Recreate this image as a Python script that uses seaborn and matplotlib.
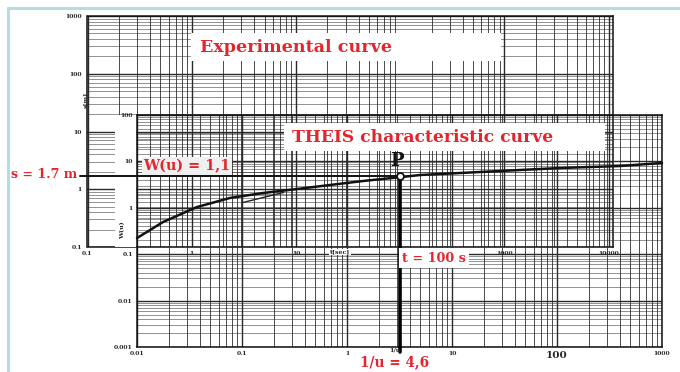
import numpy as np
import pandas as pd
import matplotlib
matplotlib.use("Agg")
import matplotlib.pyplot as plt
from matplotlib.ticker import LogLocator, NullFormatter, FixedLocator, FixedFormatter
from matplotlib.patches import Rectangle
from matplotlib.lines import Line2D
import seaborn as sns

# ---------------- data ----------------
# Theis characteristic curve  W(u) vs 1/u
theis_inv_u = [0.01, 0.0177, 0.0373, 0.0769, 0.158, 0.334, 0.689, 1.42, 3.0, 4.96, 11.9, 28.6, 107, 398, 1000]
theis_w = [0.223, 0.494, 1.04, 1.63, 2.08, 2.54, 3.10, 3.78, 4.5, 5.09, 5.62, 6.21, 7.2, 7.95, 9.25]
# short experimental stroke under the curve
stroke_inv_u = [0.102, 0.25]
stroke_w = [1.3, 2.15]
# match point P (experimental sheet coordinates)
match_t = 100.0      # s
match_s = 1.7        # m
h_line_t = [0.085, 100.0]
v_line_s = [1.7, 0.0015]

exp_xticks = [0.1, 1, 10, 1000, 10000]
exp_xlabels = ["0.1", "1", "10", "1000", "10000"]
exp_yticks = [0.1, 1, 10, 100, 1000]
exp_ylabels = ["0.1", "1", "10", "100", "1000"]
theis_xticks = [0.01, 0.1, 1, 10, 100, 1000]
theis_xlabels = ["0.01", "0.1", "1", "10", "100", "1000"]
theis_yticks = [0.001, 0.01, 0.1, 1, 10, 100]
theis_ylabels = ["0.001", "0.01", "0.1", "1", "10", "100"]

# ---------------- style ----------------
sns.set_style("white")
plt.rcParams["font.family"] = ["DejaVu Serif", "DejaVu Sans"]

W, H = 680, 372
fig = plt.figure(figsize=(6.8, 3.72), dpi=100)
fig.patch.set_facecolor("white")

def fx(px):
    return px / W

def fy(py):
    return 1 - py / H

RED = "#e3262b"
GRID = "#2a2a2a"
tick_font = dict(fontsize=4.3, fontweight="bold", family="DejaVu Serif")


def paper(ax, xlim, ylim):
    ax.set_xscale("log")
    ax.set_yscale("log")
    ax.set_xlim(*xlim)
    ax.set_ylim(*ylim)
    ax.xaxis.set_minor_locator(LogLocator(base=10, subs=np.arange(2, 10), numticks=50))
    ax.yaxis.set_minor_locator(LogLocator(base=10, subs=np.arange(2, 10), numticks=50))
    ax.xaxis.set_minor_formatter(NullFormatter())
    ax.yaxis.set_minor_formatter(NullFormatter())
    ax.grid(True, which="major", axis="both", color=GRID, lw=1.0)
    ax.grid(True, which="minor", axis="x", color=GRID, lw=0.7, alpha=0.85)
    ax.grid(True, which="minor", axis="y", color=GRID, lw=0.6, alpha=0.6)
    for sp in ax.spines.values():
        sp.set_color("#111111")
        sp.set_linewidth(1.1)
    ax.tick_params(which="both", length=0)


# ---------------- experimental sheet ----------------
ax_e = fig.add_axes([fx(87.5), fy(247), fx(613) - fx(87.5), fy(16) - fy(247)])
ax_e.set_facecolor("white")
paper(ax_e, (0.1, 1.1e4), (0.1, 1000))
ax_e.xaxis.set_major_locator(FixedLocator(exp_xticks))
ax_e.xaxis.set_major_formatter(FixedFormatter(exp_xlabels))
ax_e.yaxis.set_major_locator(FixedLocator(exp_yticks))
ax_e.yaxis.set_major_formatter(FixedFormatter(exp_ylabels))
ax_e.tick_params(axis="x", pad=3)
ax_e.tick_params(axis="y", pad=4)
for lab in ax_e.get_xticklabels() + ax_e.get_yticklabels():
    lab.set(**tick_font)
for lab in ax_e.get_xticklabels()[1:3]:
    lab.set_bbox(dict(facecolor="white", edgecolor="none", pad=1.0))
ax_e.set_zorder(1)

# white margin of the Theis sheet
fig.add_artist(Rectangle((fx(115), fy(247)), fx(136) - fx(115), fy(115) - fy(247),
                         transform=fig.transFigure, facecolor="white", edgecolor="none", zorder=1.5))

# ---------------- Theis sheet ----------------
ax_t = fig.add_axes([fx(137), fy(347), fx(662) - fx(137), fy(115) - fy(347)])
ax_t.patch.set_alpha(0.0)
paper(ax_t, (0.01, 1000), (0.001, 100))
ax_t.xaxis.set_major_locator(FixedLocator(theis_xticks))
ax_t.xaxis.set_major_formatter(FixedFormatter(theis_xlabels))
ax_t.yaxis.set_major_locator(FixedLocator(theis_yticks))
ax_t.yaxis.set_major_formatter(FixedFormatter(theis_ylabels))
ax_t.tick_params(axis="x", pad=3)
ax_t.tick_params(axis="y", pad=3)
for lab in ax_t.get_xticklabels() + ax_t.get_yticklabels():
    lab.set(**tick_font)
ax_t.get_xticklabels()[4].set_fontsize(7.5)
ax_t.set_zorder(2)

df_theis = pd.DataFrame({"inv_u": theis_inv_u, "W": theis_w})
sns.lineplot(data=df_theis, x="inv_u", y="W", ax=ax_t, color="#111111", lw=1.8,
             sort=False, estimator=None, clip_on=False, zorder=5)
df_stroke = pd.DataFrame({"inv_u": stroke_inv_u, "W": stroke_w})
sns.lineplot(data=df_stroke, x="inv_u", y="W", ax=ax_t, color="#222222", lw=1.0,
             sort=False, estimator=None, zorder=5)
ax_t.set_xlabel("")
ax_t.set_ylabel("")

# overlay axes for match lines (experimental coordinates, drawn on top)
ax_m = fig.add_axes(ax_e.get_position().bounds)
ax_m.set_xscale("log")
ax_m.set_yscale("log")
ax_m.set_xlim(ax_e.get_xlim())
ax_m.set_ylim(ax_e.get_ylim())
ax_m.axis("off")
ax_m.set_zorder(3)
ax_m.plot(h_line_t, [match_s, match_s], color="#111111", lw=1.4, clip_on=False)
ax_m.plot([match_t, match_t], v_line_s, color="#000000", lw=2.6, clip_on=False)
ax_m.plot([match_t], [match_s], marker="o", ms=5, mfc="white", mec="#111111", mew=1.3,
          clip_on=False, zorder=6)

# ---------------- annotations ----------------
fig.text(fx(86), fy(100), "s[m]", rotation=90, ha="center", va="center",
         fontsize=4.5, fontweight="bold", zorder=10)
fig.text(fx(123), fy(230), "W(u)", rotation=90, ha="center", va="center",
         fontsize=4.5, fontweight="bold", zorder=10)
fig.text(fx(340), fy(252), "t[sec]", ha="center", va="center",
         fontsize=4.5, fontweight="bold", zorder=10,
         bbox=dict(facecolor="white", edgecolor="none", pad=0.5))
fig.text(fx(395), fy(350), "1/u", ha="center", va="center",
         fontsize=4.5, fontweight="bold", zorder=10)

# white label panels
fig.add_artist(Rectangle((fx(191), fy(61)), fx(501) - fx(191), fy(33) - fy(61),
                         transform=fig.transFigure, facecolor="white", edgecolor="none", zorder=9))
fig.add_artist(Rectangle((fx(284), fy(151)), fx(605) - fx(284), fy(123) - fy(151),
                         transform=fig.transFigure, facecolor="white", edgecolor="none", zorder=9))

serif_bold = dict(family=["DejaVu Serif", "DejaVu Sans"], fontweight="bold", zorder=10)
fig.text(fx(200), fy(47), "Experimental curve", color=RED, fontsize=12.6, ha="left", va="center",
         **serif_bold)
fig.text(fx(292), fy(137), "THEIS characteristic curve", color=RED, fontsize=12.3, ha="left", va="center",
         **serif_bold)
fig.text(fx(143), fy(166), "W(u) = 1,1", color=RED, fontsize=10.4, ha="left", va="center",
         bbox=dict(facecolor="#f0f0f0", edgecolor="none", pad=1.0), **serif_bold)
fig.text(fx(11), fy(175), "s = 1.7 m", color=RED, fontsize=9.1, ha="left", va="center", **serif_bold)
fig.text(fx(402), fy(258), "t = 100 s", color=RED, fontsize=9.2, ha="left", va="center",
         bbox=dict(facecolor="white", edgecolor="none", pad=2.5), **serif_bold)
fig.text(fx(360), fy(362), "1/u = 4,6", color=RED, fontsize=9.8, ha="left", va="center", **serif_bold)
fig.text(fx(397), fy(161), "P", color="#111111", fontsize=13, ha="center", va="center", **serif_bold)

# light blue frame of the slide
fig.add_artist(Line2D([fx(8), fx(680)], [fy(8), fy(8)], transform=fig.transFigure,
                      color="#b3dce8", lw=2.2, zorder=20))
fig.add_artist(Line2D([fx(8), fx(8)], [fy(8), fy(372)], transform=fig.transFigure,
                      color="#b3dce8", lw=2.2, zorder=20))

fig.savefig("out.png", dpi=100, facecolor="white")
